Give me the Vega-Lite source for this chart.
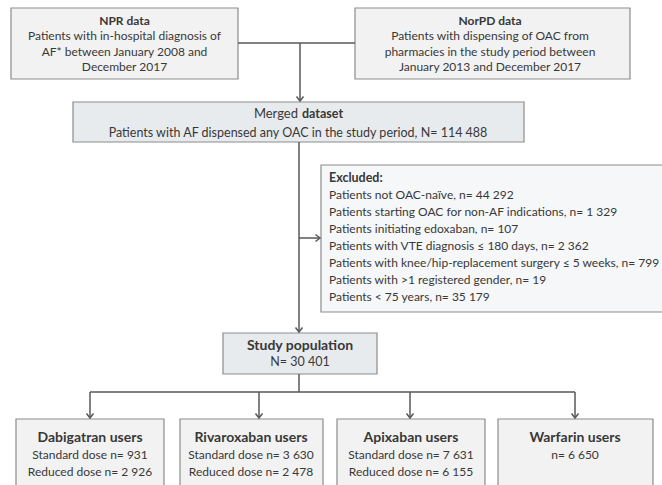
{
  "$schema": "https://vega.github.io/schema/vega-lite/v6.json",
  "width": 662,
  "height": 485,
  "autosize": {"type": "fit", "contains": "padding"},
  "padding": 0,
  "background": "white",
  "config": {"view": {"stroke": null}},
  "datasets": {
    "boxes": [
      {"id": "npr", "kind": "source", "x0": 11, "x1": 238, "y0": 8, "y1": 79},
      {"id": "norpd", "kind": "source", "x0": 355, "x1": 630, "y0": 8, "y1": 79},
      {"id": "merged", "kind": "main", "x0": 73, "x1": 524, "y0": 102, "y1": 142},
      {"id": "excluded", "kind": "excluded", "x0": 321, "x1": 680, "y0": 165, "y1": 312},
      {"id": "study", "kind": "main", "x0": 223, "x1": 377, "y0": 333, "y1": 374},
      {"id": "dabi", "kind": "source", "x0": 16, "x1": 164, "y0": 419, "y1": 500},
      {"id": "riva", "kind": "source", "x0": 180, "x1": 323, "y0": 419, "y1": 500},
      {"id": "apix", "kind": "source", "x0": 337, "x1": 485, "y0": 419, "y1": 500},
      {"id": "warf", "kind": "source", "x0": 498, "x1": 653, "y0": 419, "y1": 500}
    ],
    "lines": [
      {"x0": 238, "x1": 355, "y0": 43, "y1": 43},
      {"x0": 300, "x1": 300, "y0": 43, "y1": 101},
      {"x0": 299, "x1": 299, "y0": 142, "y1": 332},
      {"x0": 299, "x1": 320, "y0": 238, "y1": 238},
      {"x0": 299, "x1": 299, "y0": 374, "y1": 392},
      {"x0": 90, "x1": 575, "y0": 392, "y1": 392},
      {"x0": 90, "x1": 90, "y0": 392, "y1": 418},
      {"x0": 259, "x1": 259, "y0": 392, "y1": 418},
      {"x0": 410, "x1": 410, "y0": 392, "y1": 418},
      {"x0": 575, "x1": 575, "y0": 392, "y1": 418}
    ],
    "arrows": [
      {"x": 300, "y": 101, "dir": "down"},
      {"x": 299, "y": 332, "dir": "down"},
      {"x": 320, "y": 238, "dir": "right"},
      {"x": 90, "y": 418, "dir": "down"},
      {"x": 259, "y": 418, "dir": "down"},
      {"x": 410, "y": 418, "dir": "down"},
      {"x": 575, "y": 418, "dir": "down"}
    ],
    "texts": [
      {"t": "NPR data", "x": 124.5, "y": 21, "w": "bold", "a": "center"},
      {"t": "Patients with in-hospital diagnosis of", "x": 124.5, "y": 36, "w": "normal", "a": "center"},
      {"t": "AF* between January 2008 and", "x": 124.5, "y": 52, "w": "normal", "a": "center"},
      {"t": "December 2017", "x": 124.5, "y": 67, "w": "normal", "a": "center"},
      {"t": "NorPD data", "x": 490, "y": 21, "w": "bold", "a": "center"},
      {"t": "Patients with dispensing of OAC from", "x": 490, "y": 36, "w": "normal", "a": "center"},
      {"t": "pharmacies in  the study period between", "x": 490, "y": 52, "w": "normal", "a": "center"},
      {"t": "January 2013 and December 2017", "x": 490, "y": 67, "w": "normal", "a": "center"},
      {"t": "Merged", "x": 298, "y": 114, "w": "normal", "a": "right"},
      {"t": "dataset", "x": 302, "y": 114, "w": "bold", "a": "left"},
      {"t": "Patients with AF dispensed any OAC in the study period, N= 114 488", "x": 298, "y": 133, "w": "normal", "a": "mid"},
      {"t": "Excluded:", "x": 329, "y": 178, "w": "bold", "a": "left"},
      {"t": "Patients not OAC-naïve, n= 44 292", "x": 329, "y": 195, "w": "normal", "a": "left"},
      {"t": "Patients starting OAC for non-AF indications, n= 1 329", "x": 329, "y": 212, "w": "normal", "a": "left"},
      {"t": "Patients initiating edoxaban, n= 107", "x": 329, "y": 229, "w": "normal", "a": "left"},
      {"t": "Patients with VTE diagnosis  ≤ 180 days, n= 2 362", "x": 329, "y": 246, "w": "normal", "a": "left"},
      {"t": "Patients with knee/hip-replacement surgery ≤ 5 weeks, n= 799", "x": 329, "y": 263, "w": "normal", "a": "left"},
      {"t": "Patients with >1 registered gender, n= 19", "x": 329, "y": 280, "w": "normal", "a": "left"},
      {"t": "Patients < 75 years, n= 35 179", "x": 329, "y": 297, "w": "normal", "a": "left"},
      {"t": "Study population", "x": 300, "y": 346, "w": "big", "a": "center"},
      {"t": "N= 30 401", "x": 300, "y": 362, "w": "normal", "a": "mid"},
      {"t": "Dabigatran users", "x": 90, "y": 438, "w": "big", "a": "center"},
      {"t": "Standard dose n= 931", "x": 90, "y": 455, "w": "normal", "a": "center"},
      {"t": "Reduced dose n= 2 926", "x": 90, "y": 472, "w": "normal", "a": "center"},
      {"t": "Rivaroxaban users", "x": 251, "y": 438, "w": "big", "a": "center"},
      {"t": "Standard dose n= 3 630", "x": 251, "y": 455, "w": "normal", "a": "center"},
      {"t": "Reduced dose n= 2 478", "x": 251, "y": 472, "w": "normal", "a": "center"},
      {"t": "Apixaban users", "x": 411, "y": 438, "w": "big", "a": "center"},
      {"t": "Standard dose n= 7 631", "x": 411, "y": 455, "w": "normal", "a": "center"},
      {"t": "Reduced dose n= 6 155", "x": 411, "y": 472, "w": "normal", "a": "center"},
      {"t": "Warfarin users", "x": 575, "y": 438, "w": "big", "a": "center"},
      {"t": "n= 6 650", "x": 575, "y": 455, "w": "normal", "a": "center"}
    ]
  },
  "layer": [
    {
      "data": {"name": "boxes"},
      "mark": {"type": "rect", "stroke": "#8c8c8c", "strokeWidth": 1.2, "clip": true},
      "encoding": {
        "x": {"field": "x0", "type": "quantitative", "scale": {"domain": [0, 662], "nice": false, "zero": false}, "axis": null},
        "x2": {"field": "x1"},
        "y": {"field": "y0", "type": "quantitative", "scale": {"domain": [0, 485], "reverse": true, "nice": false, "zero": false}, "axis": null},
        "y2": {"field": "y1"},
        "fill": {"field": "kind", "type": "nominal", "scale": {"domain": ["source", "main", "excluded"], "range": ["#f2f2f2", "#e8ebee", "#f6f7f9"]}, "legend": null}
      }
    },
    {
      "data": {"name": "lines"},
      "mark": {"type": "rule", "color": "#595959", "strokeWidth": 1.5},
      "encoding": {
        "x": {"field": "x0", "type": "quantitative"},
        "x2": {"field": "x1"},
        "y": {"field": "y0", "type": "quantitative"},
        "y2": {"field": "y1"}
      }
    },
    {
      "data": {"name": "arrows"},
      "transform": [{"filter": "datum.dir === 'down'"}],
      "mark": {"type": "point", "shape": "M-1,-1.3L0,0L1,-1.3", "filled": false, "stroke": "#595959", "strokeWidth": 1.5, "size": 49, "opacity": 1},
      "encoding": {
        "x": {"field": "x", "type": "quantitative"},
        "y": {"field": "y", "type": "quantitative"}
      }
    },
    {
      "data": {"name": "arrows"},
      "transform": [{"filter": "datum.dir === 'right'"}],
      "mark": {"type": "point", "shape": "M-1.3,-1L0,0L-1.3,1", "filled": false, "stroke": "#595959", "strokeWidth": 1.5, "size": 49, "opacity": 1},
      "encoding": {
        "x": {"field": "x", "type": "quantitative"},
        "y": {"field": "y", "type": "quantitative"}
      }
    },
    {
      "data": {"name": "texts"},
      "transform": [{"filter": "datum.w === 'normal' && datum.a === 'center'"}],
      "mark": {"type": "text", "font": "Lato", "fontSize": 12, "color": "#383838", "align": "center", "baseline": "middle"},
      "encoding": {
        "x": {"field": "x", "type": "quantitative"},
        "y": {"field": "y", "type": "quantitative"},
        "text": {"field": "t"}
      }
    },
    {
      "data": {"name": "texts"},
      "transform": [{"filter": "datum.a === 'mid'"}],
      "mark": {"type": "text", "font": "Lato", "fontSize": 12.5, "color": "#383838", "align": "center", "baseline": "middle"},
      "encoding": {
        "x": {"field": "x", "type": "quantitative"},
        "y": {"field": "y", "type": "quantitative"},
        "text": {"field": "t"}
      }
    },
    {
      "data": {"name": "texts"},
      "transform": [{"filter": "datum.w === 'bold' && datum.a === 'center'"}],
      "mark": {"type": "text", "font": "Lato", "fontSize": 12, "fontWeight": "bold", "color": "#383838", "align": "center", "baseline": "middle"},
      "encoding": {
        "x": {"field": "x", "type": "quantitative"},
        "y": {"field": "y", "type": "quantitative"},
        "text": {"field": "t"}
      }
    },
    {
      "data": {"name": "texts"},
      "transform": [{"filter": "datum.w === 'big'"}],
      "mark": {"type": "text", "font": "Lato", "fontSize": 14, "fontWeight": "bold", "color": "#383838", "align": "center", "baseline": "middle"},
      "encoding": {
        "x": {"field": "x", "type": "quantitative"},
        "y": {"field": "y", "type": "quantitative"},
        "text": {"field": "t"}
      }
    },
    {
      "data": {"name": "texts"},
      "transform": [{"filter": "datum.w === 'normal' && datum.a === 'left'"}],
      "mark": {"type": "text", "font": "Lato", "fontSize": 12, "color": "#383838", "align": "left", "baseline": "middle"},
      "encoding": {
        "x": {"field": "x", "type": "quantitative"},
        "y": {"field": "y", "type": "quantitative"},
        "text": {"field": "t"}
      }
    },
    {
      "data": {"name": "texts"},
      "transform": [{"filter": "datum.w === 'bold' && datum.a === 'left'"}],
      "mark": {"type": "text", "font": "Lato", "fontSize": 12.5, "fontWeight": "bold", "color": "#383838", "align": "left", "baseline": "middle"},
      "encoding": {
        "x": {"field": "x", "type": "quantitative"},
        "y": {"field": "y", "type": "quantitative"},
        "text": {"field": "t"}
      }
    },
    {
      "data": {"name": "texts"},
      "transform": [{"filter": "datum.a === 'right'"}],
      "mark": {"type": "text", "font": "Lato", "fontSize": 13, "color": "#383838", "align": "right", "baseline": "middle"},
      "encoding": {
        "x": {"field": "x", "type": "quantitative"},
        "y": {"field": "y", "type": "quantitative"},
        "text": {"field": "t"}
      }
    }
  ]
}
